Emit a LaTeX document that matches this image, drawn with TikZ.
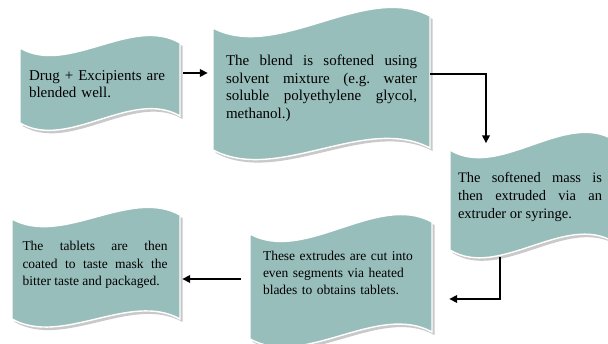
\documentclass[tikz,border=0pt]{standalone}
\usepackage{fontspec}
\setmainfont{Liberation Serif}
\usetikzlibrary{arrows.meta}
\definecolor{boxfill}{RGB}{152,190,188}
\definecolor{boxshadow}{RGB}{165,165,165}
\tikzset{
  wavefill/.style={fill=boxfill, draw=white, line width=1.4pt},
  waveshadow/.style={fill=boxshadow, draw=none, opacity=0.6},
  boxtext/.style={inner sep=0pt, align=justify, font=\fontsize{14}{17.5}\selectfont},
  arr/.style={line width=1.8pt, -{Triangle[length=8pt,width=7.5pt]}},
}
% #1 L, #2 R, #3 top-left, #4 top-right, #5 bottom-left, #6 bottom-right, #7 wave depth
\newcommand\wavebox[7]{%
  \fill[waveshadow, shift={(2.5,3)}] (#1,#3) .. controls ({#1+0.3*(#2-#1)},{#3+#7}) and ({#1+0.7*(#2-#1)},{#4-#7}) .. (#2,#4)
     -- (#2,#6) .. controls ({#1+0.7*(#2-#1)},{#6-#7}) and ({#1+0.3*(#2-#1)},{#5+#7}) .. (#1,#5) -- cycle;
  \path[wavefill] (#1,#3) .. controls ({#1+0.3*(#2-#1)},{#3+#7}) and ({#1+0.7*(#2-#1)},{#4-#7}) .. (#2,#4)
     -- (#2,#6) .. controls ({#1+0.7*(#2-#1)},{#6-#7}) and ({#1+0.3*(#2-#1)},{#5+#7}) .. (#1,#5) -- cycle;
}
\frenchspacing
\begin{document}
\begin{tikzpicture}[x=1pt, y=-1pt]
  \useasboundingbox (0,0) rectangle (608,344);
  \fill[white] (0,0) rectangle (608,344);

  % wave shaped boxes
  \wavebox{20}{180}{48}{43}{123}{116}{28}
  \wavebox{213}{430}{28}{16}{150}{148}{34}
  \wavebox{450}{614}{150}{140}{250}{242}{30}
  \wavebox{250}{432}{234}{222}{339}{332}{30}
  \wavebox{12}{180}{219}{215}{319}{319}{28}

  % texts (nodes)
  \node[boxtext, align=left, text width=142pt, minimum width=160pt, minimum height=76pt, font=\fontsize{15}{17.5}\selectfont] (b1) at (100,84)
    {Drug + Excipients are\\ blended well.};
  \node[boxtext, text width=191pt, minimum width=217pt, minimum height=127pt, font=\fontsize{15}{17.5}\selectfont] (b2) at (321.5,88.5)
    {The blend is softened using\linebreak solvent mixture (e.g. water\linebreak soluble polyethylene glycol,\linebreak methanol.)};
  \node[boxtext, text width=144pt, minimum width=162pt, minimum height=101pt, font=\fontsize{14.5}{18}\selectfont] (b3) at (530,197)
    {The softened mass is\linebreak then extruded via an\linebreak extruder or syringe.};
  \node[boxtext, align=left, text width=152pt, minimum width=182pt, minimum height=100pt, font=\fontsize{13.5}{17}\selectfont] (b5) at (339,273)
    {These extrudes are cut into\\ even segments via heated\\ blades to obtains tablets.};
  \node[boxtext, text width=145pt, minimum width=168pt, minimum height=100pt, font=\fontsize{13.5}{17.5}\selectfont] (b6) at (95,265)
    {The tablets are then\linebreak coated to taste mask the\linebreak bitter taste and packaged.};

  % connectors
  \draw[arr, shorten <=3pt, shorten >=5pt] (b1.east |- 0,73) -- (b2.west |- 0,73);
  \draw[arr, shorten >=3pt] (b2.east |- 0,74) -| ([xshift=-44pt]b3.north);
  \draw[arr, shorten <=9pt, shorten >=19pt] ([xshift=-30pt]b3.south) |- (b5.east |- 0,299);
  \draw[arr, shorten <=7pt, shorten >=3pt] (b5.west |- 0,279) -- (b6.east |- 0,279);
\end{tikzpicture}
\end{document}
